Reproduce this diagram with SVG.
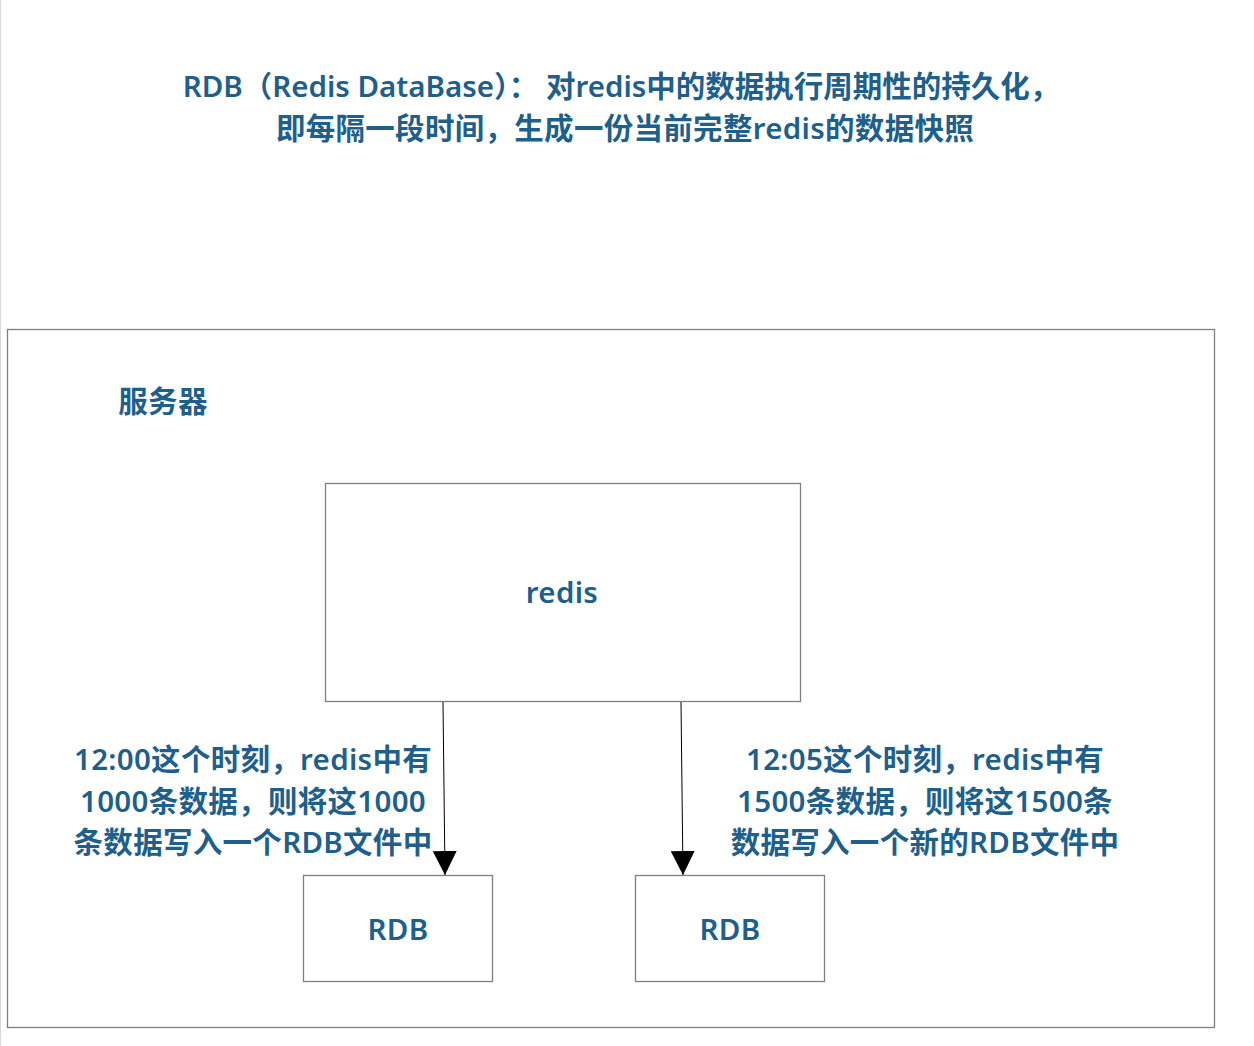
<svg xmlns="http://www.w3.org/2000/svg" width="1254" height="1046" viewBox="0 0 1254 1046">
<defs>
<style>
.t{font-family:"Noto Sans","Noto Sans CJK SC",sans-serif;fill:#1f5f8c;font-size:29.5px;font-weight:600;text-anchor:middle;letter-spacing:0.3px}
.b{fill:#fff;stroke:#7f7f7f;stroke-width:1.3}
.c{stroke:#000;stroke-width:1;fill:none}
</style>
<marker id="ah" markerWidth="24" markerHeight="24" viewBox="0 0 24 24" refX="24" refY="12" orient="auto" markerUnits="userSpaceOnUse">
<path d="M0,0 L24,12 L0,24 Z" fill="#000"/>
</marker>
</defs>
<rect width="1254" height="1046" fill="#fff"/>
<line x1="0.5" y1="0" x2="0.5" y2="1046" stroke="#d9d9d9" stroke-width="1"/>
<g id="title">
<text class="t" x="621" y="97" style="letter-spacing:0">RDB（Redis DataBase）： 对redis中的数据执行周期性的持久化，</text>
<text class="t" x="625" y="139">即每隔一段时间，生成一份当前完整redis的数据快照</text>
</g>
<g id="server">
<rect class="b" x="7.5" y="329.5" width="1207" height="698"/>
<text class="t" x="163" y="412">服务器</text>
</g>
<g id="redis">
<rect class="b" x="325.5" y="483.5" width="475" height="218"/>
<text class="t" x="562" y="603">redis</text>
</g>
<g id="rdb1">
<rect class="b" x="303.5" y="875.5" width="189" height="106"/>
<text class="t" x="398" y="940">RDB</text>
</g>
<g id="rdb2">
<rect class="b" x="635.5" y="875.5" width="189" height="106"/>
<text class="t" x="730" y="940">RDB</text>
</g>
<g id="connectors">
<line class="c" x1="443" y1="702" x2="445" y2="875" marker-end="url(#ah)"/>
<line class="c" x1="681" y1="702" x2="683" y2="875" marker-end="url(#ah)"/>
</g>
<g id="label-left">
<text class="t" x="253" y="770">12:00这个时刻，redis中有</text>
<text class="t" x="253" y="812">1000条数据，则将这1000</text>
<text class="t" x="253" y="853">条数据写入一个RDB文件中</text>
</g>
<g id="label-right">
<text class="t" x="925" y="770">12:05这个时刻，redis中有</text>
<text class="t" x="925" y="812">1500条数据，则将这1500条</text>
<text class="t" x="925" y="853">数据写入一个新的RDB文件中</text>
</g>
</svg>
